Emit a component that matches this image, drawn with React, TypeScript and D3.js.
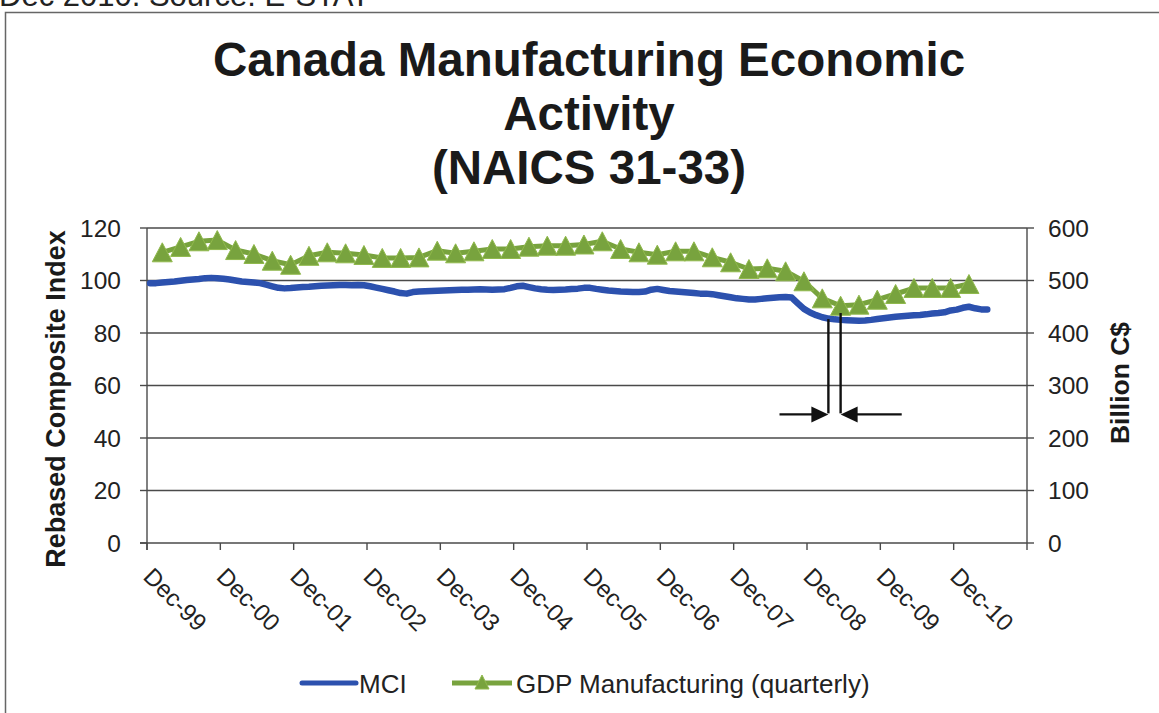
import React from 'react';
import * as d3 from 'd3';

const W = 1159;
const H = 713;
const FONT = '"Liberation Sans", Arial, Helvetica, sans-serif';

// ---------- data ----------
const sourceNote = 'Dec 2010. Source: E-STAT';
const titleLines = ['Canada Manufacturing Economic', 'Activity', '(NAICS 31-33)'];
const leftAxisTitle = 'Rebased Composite Index';
const rightAxisTitle = 'Billion C$';
const xTickLabels = ['Dec-99', 'Dec-00', 'Dec-01', 'Dec-02', 'Dec-03', 'Dec-04', 'Dec-05', 'Dec-06', 'Dec-07', 'Dec-08', 'Dec-09', 'Dec-10'];
const leftTicks = [0, 20, 40, 60, 80, 100, 120];
const rightTicks = [0, 100, 200, 300, 400, 500, 600];
const xAxisEnd = 'Dec-11';

// MCI, monthly from Dec-99
const mciStart = 'Dec-99';
const mciValues = [
  99.0, 99.0, 99.2, 99.4, 99.6, 99.9, 100.2, 100.4, 100.6, 100.9, 101.0, 100.9,
  100.7, 100.4, 100.0, 99.6, 99.4, 99.2, 99.0, 98.4, 97.8, 97.2, 97.0, 97.1,
  97.3, 97.5, 97.6, 97.8, 98.0, 98.1, 98.2, 98.3, 98.3, 98.2, 98.3, 98.2,
  97.8, 97.3, 96.8, 96.3, 95.8, 95.2, 95.0, 95.6, 95.8, 95.9, 96.0, 96.1,
  96.2, 96.3, 96.4, 96.5, 96.5, 96.6, 96.7, 96.6, 96.5, 96.6, 96.7, 97.2,
  97.8, 98.0, 97.5, 97.0, 96.7, 96.5, 96.4, 96.5, 96.6, 96.8, 96.9, 97.2,
  97.2, 96.8, 96.5, 96.2, 96.0, 95.8, 95.7, 95.6, 95.6, 95.8, 96.5, 96.8,
  96.4, 96.0, 95.8, 95.6, 95.4, 95.2, 95.0, 95.0, 94.8, 94.4, 94.0, 93.6,
  93.2, 93.0, 92.8, 92.8, 93.0, 93.2, 93.4, 93.6, 93.7, 93.5, 91.3, 89.2,
  87.8, 86.8, 86.0, 85.5, 85.2, 85.0, 84.9, 84.8, 84.7, 84.8, 85.0, 85.3,
  85.6, 85.9, 86.2, 86.4, 86.6, 86.8, 86.9, 87.1, 87.4, 87.6, 87.9, 88.6,
  88.9, 89.6, 90.0, 89.4, 89.0, 89.0,
];

// GDP manufacturing, quarterly (plotted at mid-quarter month), from Feb-00
const gdpStart = 'Feb-00';
const gdpStepMonths = 3;
const gdpValues = [
  553.7, 564, 574.7, 577, 558, 550.5, 537.7, 530, 547, 553.7,
  551.8, 548.6, 543, 543, 544, 556.8, 551.8, 555.6, 560, 560,
  564.4, 566.3, 566.3, 568.6, 574.7, 560, 553.7, 549.2, 555.6, 555.6,
  544.2, 534.7, 521.9, 523.2, 517.5, 498.5, 466, 452, 454, 463.4,
  474.3, 485.7, 485.7, 485.7, 493.3,
];

const legendLabels = ['MCI', 'GDP Manufacturing (quarterly)'];

// annotation (trough markers) in data units
const troughMarks = [
  { month: 'Mar-09', top: 85.3 },
  { month: 'May-09', top: 87.6 },
];
const arrowTails = ['Jul-08', 'Mar-10'];
const arrowLevel = 49;

// ---------- helpers ----------
const MONTHS = ['Jan', 'Feb', 'Mar', 'Apr', 'May', 'Jun', 'Jul', 'Aug', 'Sep', 'Oct', 'Nov', 'Dec'];
function monthIndex(label: string): number {
  const [m, yy] = label.split('-');
  const n = +yy;
  const year = n < 50 ? 2000 + n : 1900 + n;
  return (year - 1999) * 12 + MONTHS.indexOf(m) - 11;
}

const BLUE = '#2c51ae';
const GREEN = '#78a33e';
const GREEN_EDGE = '#90b94c';
const GRID = '#4a4a4a';

function triangle(cx: number, cy: number, w: number, h: number) {
  return `M${cx},${cy - h / 2}L${cx + w / 2},${cy + h / 2}L${cx - w / 2},${cy + h / 2}Z`;
}

export default function App() {
  const plot = { left: 147, right: 1027, top: 228, bottom: 543 };
  const x = d3.scaleLinear().domain([0, monthIndex(xAxisEnd)]).range([plot.left, plot.right]);
  const pos = (i: number) => x(i + 0.5);
  const yL = d3.scaleLinear().domain([0, 120]).range([plot.bottom, plot.top]);
  const yR = d3.scaleLinear().domain([0, 600]).range([plot.bottom, plot.top]);

  const mci0 = monthIndex(mciStart);
  const mciPts: [number, number][] = mciValues.map((v, i) => [pos(mci0 + i), yL(v)]);
  const gdp0 = monthIndex(gdpStart);
  const gdpPts: [number, number][] = gdpValues.map((v, i) => [pos(gdp0 + i * gdpStepMonths), yR(v)]);
  const line = d3.line();

  const xTicks = d3.range(0, monthIndex(xAxisEnd) + 1, 12);

  const leftX = pos(monthIndex(troughMarks[0].month));
  const rightX = pos(monthIndex(troughMarks[1].month));
  const ay = yL(arrowLevel);
  const leftTailX = pos(monthIndex(arrowTails[0]));
  const rightTailX = pos(monthIndex(arrowTails[1]));
  const ah = 17;
  const aw = 8;

  const legendY = 683;

  return (
    <svg width={W} height={H} style={{ position: 'absolute', left: 0, top: 0, background: '#fff' }} fontFamily={FONT}>
      <rect x={0} y={0} width={W} height={H} fill="#fff" />
      <text x={-1} y={6} fontSize={31} fill="#222">{sourceNote}</text>
      <rect x={5.5} y={12.5} width={1300} height={900} fill="none" stroke="#666" strokeWidth={1.5} />

      {titleLines.map((t, i) => (
        <text key={t} x={589} y={76 + i * 54} fontSize={47.5} fontWeight="bold" textAnchor="middle" fill="#1a1a1a">{t}</text>
      ))}

      {/* gridlines */}
      {leftTicks.map((t) => (
        <line key={'g' + t} x1={t === 0 ? plot.left - 7 : plot.left} x2={plot.right} y1={yL(t)} y2={yL(t)} stroke={GRID} strokeWidth={1.4} />
      ))}
      {/* left axis */}
      <line x1={plot.left} x2={plot.left} y1={plot.top} y2={plot.bottom + 7} stroke={GRID} strokeWidth={1.4} />
      {leftTicks.map((t) => (
        <g key={'l' + t}>
          <line x1={plot.left - 7} x2={plot.left} y1={yL(t)} y2={yL(t)} stroke={GRID} strokeWidth={1.4} />
          <text x={121} y={yL(t) + 8.5} fontSize={24.5} textAnchor="end" fill="#222">{t}</text>
        </g>
      ))}
      {/* right axis */}
      <line x1={plot.right} x2={plot.right} y1={plot.top} y2={plot.bottom} stroke={GRID} strokeWidth={1.4} />
      {rightTicks.map((t) => (
        <g key={'r' + t}>
          <line x1={plot.right} x2={plot.right + 7} y1={yR(t)} y2={yR(t)} stroke={GRID} strokeWidth={1.4} />
          <text x={1048} y={yR(t) + 8.5} fontSize={24.5} textAnchor="start" fill="#222">{t}</text>
        </g>
      ))}
      {/* x ticks */}
      {xTicks.map((m) => (
        <line key={'xt' + m} x1={x(m)} x2={x(m)} y1={plot.bottom} y2={plot.bottom + 7} stroke={GRID} strokeWidth={1.4} />
      ))}
      {xTickLabels.map((lab, k) => (
        <text key={lab} transform={`translate(${x(k * 12) - 5},${578}) rotate(45)`} fontSize={24} fill="#222">{lab}</text>
      ))}

      {/* axis titles */}
      <text transform={`translate(65,399) rotate(-90)`} fontSize={27} fontWeight="bold" textAnchor="middle" fill="#1a1a1a">{leftAxisTitle}</text>
      <text transform={`translate(1129,383) rotate(-90)`} fontSize={26.5} fontWeight="bold" textAnchor="middle" fill="#1a1a1a">{rightAxisTitle}</text>

      {/* MCI */}
      <path d={line(mciPts) || ''} fill="none" stroke={BLUE} strokeWidth={6.5} strokeLinejoin="round" strokeLinecap="round" />

      {/* GDP */}
      <path d={line(gdpPts) || ''} fill="none" stroke={GREEN} strokeWidth={5} strokeLinejoin="round" />
      {gdpPts.map(([px, py], i) => (
        <path key={'m' + i} d={triangle(px, py, 20, 19)} fill={GREEN} stroke={GREEN_EDGE} strokeWidth={1} />
      ))}

      {/* annotation */}
      <line x1={leftX} x2={leftX} y1={yL(troughMarks[0].top)} y2={ay - 1} stroke="#111" strokeWidth={2.4} />
      <line x1={rightX} x2={rightX} y1={yL(troughMarks[1].top)} y2={ay - 1} stroke="#111" strokeWidth={2.4} />
      <line x1={leftTailX} x2={leftX - ah + 2} y1={ay} y2={ay} stroke="#111" strokeWidth={2.2} />
      <path d={`M${leftX},${ay}L${leftX - ah},${ay - aw}L${leftX - ah},${ay + aw}Z`} fill="#111" />
      <line x1={rightTailX} x2={rightX + ah - 2} y1={ay} y2={ay} stroke="#111" strokeWidth={2.2} />
      <path d={`M${rightX},${ay}L${rightX + ah},${ay - aw}L${rightX + ah},${ay + aw}Z`} fill="#111" />

      {/* legend */}
      <line x1={302} x2={356} y1={legendY} y2={legendY} stroke={BLUE} strokeWidth={5} strokeLinecap="round" />
      <text x={359} y={legendY + 9.5} fontSize={26} fill="#222">{legendLabels[0]}</text>
      <line x1={452} x2={512} y1={legendY} y2={legendY} stroke={GREEN} strokeWidth={5} />
      <path d={triangle(482, legendY - 1, 14, 14)} fill={GREEN} stroke={GREEN_EDGE} strokeWidth={1} />
      <text x={516} y={legendY + 9.5} fontSize={26} fill="#222">{legendLabels[1]}</text>
    </svg>
  );
}
